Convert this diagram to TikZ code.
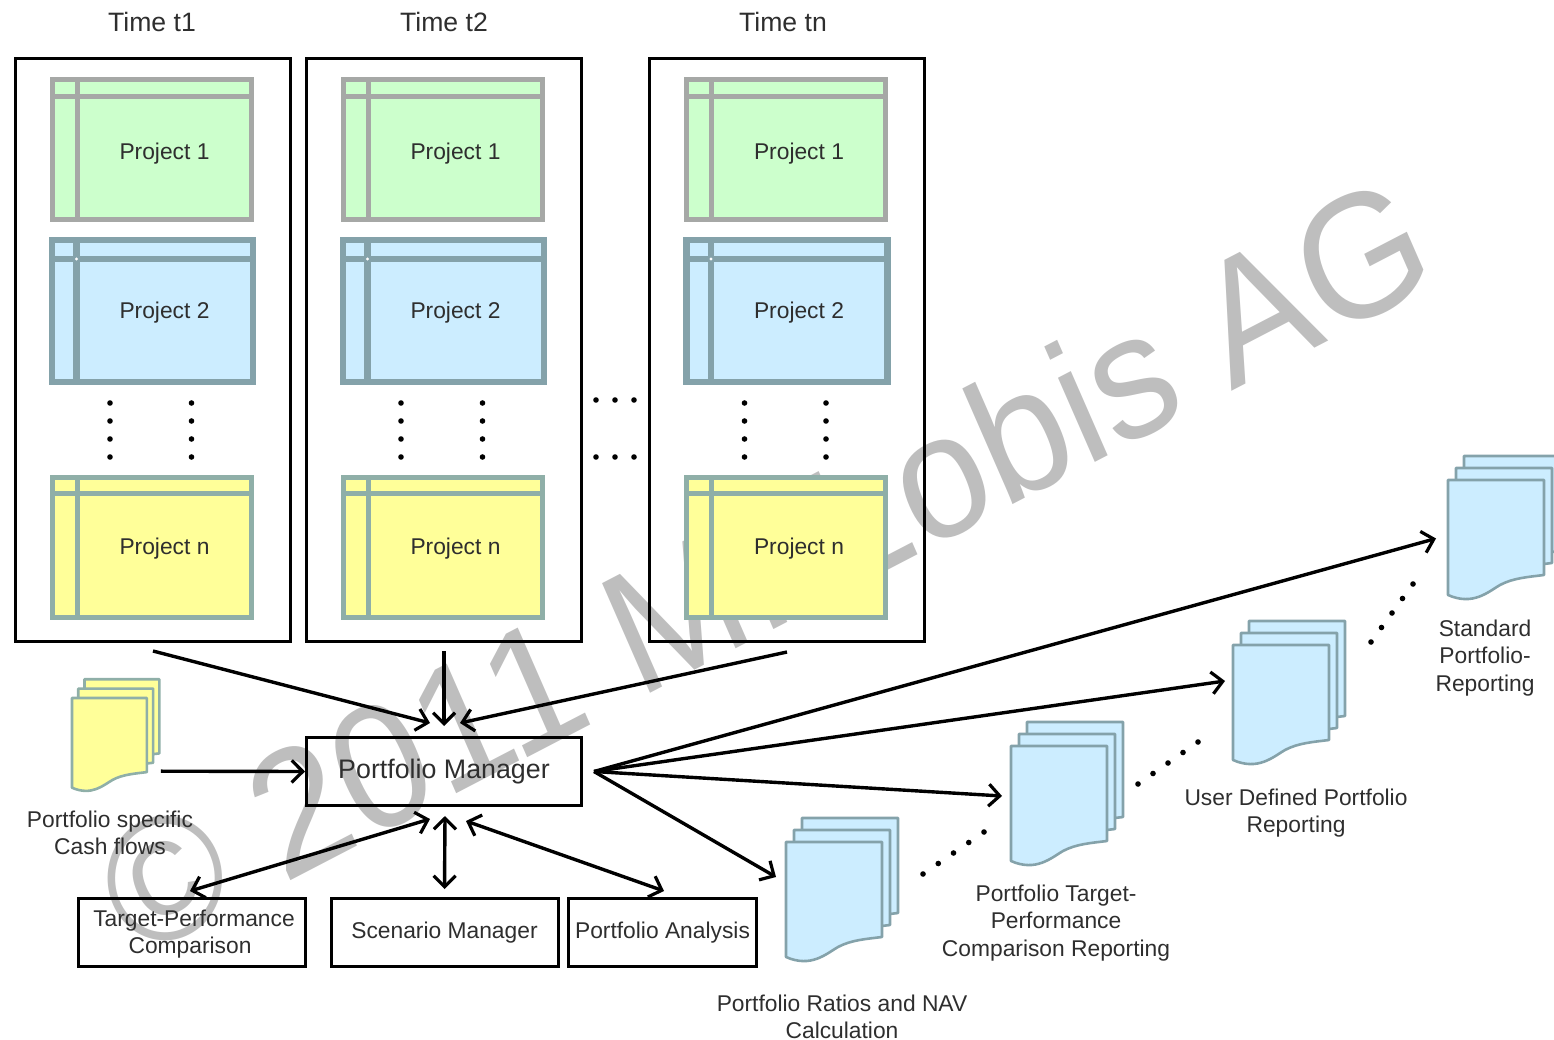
\documentclass[tikz,border=0pt]{standalone}
\usepackage{fontspec}
\setmainfont{Liberation Sans}
\usetikzlibrary{arrows.meta}
\definecolor{wm}{HTML}{BEBEBE}
\definecolor{txt}{HTML}{2E2E2E}
\definecolor{gfill}{HTML}{CCFFCC}
\definecolor{bfill}{HTML}{CCEDFF}
\definecolor{yfill}{HTML}{FFFF99}
\definecolor{gline}{HTML}{A6A8A6}
\definecolor{bline}{HTML}{84A2AA}
\definecolor{yline}{HTML}{8FAFA8}
\tikzset{
  frame/.style={draw=black,line width=3pt,minimum width=275pt,minimum height=583pt,inner sep=0pt},
  mbox/.style={draw=black,line width=3pt,inner sep=0pt,text=txt,align=center,font=\fontsize{22.8}{27.5}\selectfont},
  lab/.style={text=txt,align=center,inner sep=0pt,font=\fontsize{22.8}{27.5}\selectfont},
  timelab/.style={text=txt,inner sep=0pt,font=\fontsize{26.6}{30}\selectfont},
  conn/.style={draw=black,line width=3.4pt,-{Straight Barb[length=11pt,width=22pt,line width=3.2pt]}},
  conn2/.style={draw=black,line width=3.4pt,{Straight Barb[length=11pt,width=22pt,line width=3.2pt]}-{Straight Barb[length=11pt,width=22pt,line width=3.2pt]}},
  page/.style={line width=2.6pt,line join=round},
  ghost/.style={inner sep=0pt,outer sep=0pt}
}
\newlength{\pbw}
% name, x1, y1, x2, y2, vertical x, horizontal y, fill, line
\newcommand{\projbox}[9]{%
  \node[ghost,minimum width=#4pt-#2pt,minimum height=#5pt-#3pt] (#1) at ({(#2+#4)/2},{(#3+#5)/2}) {};
  \filldraw[fill=#8,draw=#9,line width=\pbw] (#2,#3) rectangle (#4,#5);
  \draw[#9,line width=\pbw] (#6,#3) -- (#6,#5) (#2,#7) -- (#4,#7);
}
\newcommand{\docpath}{(0,0) -- (96,0) -- (96,95) .. controls (80,97) and (65,98) .. (52,105) .. controls (40,112) and (25,126) .. (0,115) -- cycle}
% name, x, y, scale, fill, line
\newcommand{\docstack}[6]{%
  \begin{scope}[shift={(#2,#3)},scale=#4]
    \filldraw[page,fill=#5,draw=#6,shift={(16,-24)}] \docpath;
    \filldraw[page,fill=#5,draw=#6,shift={(8,-12)}] \docpath;
    \filldraw[page,fill=#5,draw=#6] \docpath;
  \end{scope}
  \node[ghost,minimum width=#4*96pt,minimum height=#4*121pt] (#1) at ({#2+#4*48},{#3+#4*60.5}) {};
}
\newcommand{\dotsline}[5]{%
  \foreach \i in {0,...,#5}{\fill[black] ({(#1)+((#3)-(#1))*\i/#5},{(#2)+((#4)-(#2))*\i/#5}) circle (2.8);}
}
\begin{document}
\begin{tikzpicture}[x=1pt,y=-1pt]
\useasboundingbox (0,0) rectangle (1554,1040);
\clip (0,0) rectangle (1554,1040);

% watermark, slightly stretched upright as in the reference
\begin{scope}[yscale=1.09]
\node[ghost,text=wm,rotate=25.5,transform shape,font=\fontsize{162}{170}\selectfont] (wmark) at (764,518) {© 2011 M. Lobis AG};
\end{scope}

% time labels
\node[timelab] (t1) at (152,22) {Time t1};
\node[timelab] (t2) at (444,22) {Time t2};
\node[timelab] (t3) at (783,22) {Time tn};

% frames
\node[frame] (f1) at (153,350) {};
\node[frame] (f2) at (444,350) {};
\node[frame] (f3) at (787,350) {};

% project boxes
\foreach \o/\k in {0/a,291/b,634.5/c}{
  \setlength{\pbw}{5pt}
  \projbox{p1\k}{52+\o}{80}{251+\o}{220}{77+\o}{97}{gfill}{gline}
  \setlength{\pbw}{6.5pt}
  \projbox{p2\k}{52+\o}{240}{253+\o}{382}{76.5+\o}{259}{bfill}{bline}
  \fill[white] (76.5+\o,259) circle (1.6);
  \setlength{\pbw}{5pt}
  \projbox{p3\k}{52+\o}{477}{251+\o}{617}{77+\o}{493}{yfill}{yline}
  \node[lab] (l1\k) at (164.5+\o,154) {Project 1};
  \node[lab] (l2\k) at (164.5+\o,313) {Project 2};
  \node[lab] (l3\k) at (164.5+\o,549) {Project n};
  \foreach \dx in {110,191.5}{\dotsline{\dx+\o}{403}{\dx+\o}{457}{3}}
}

% horizontal dots between frames
\dotsline{596}{400}{634}{400}{2}
\dotsline{596}{457}{634}{457}{2}

% manager boxes
\node[mbox,minimum width=275pt,minimum height=68pt,font=\fontsize{26.8}{30}\selectfont] (pm) at (444,771.5) {Portfolio Manager};
\node[mbox,minimum width=227pt,minimum height=68pt] (tp) at (192,932.5) {};
\node[lab] (tpa) at (194,921) {Target-Performance};
\node[lab] (tpb) at (190,948) {Comparison};
\node[mbox,minimum width=227pt,minimum height=68pt] (sm) at (444.5,932.5) {Scenario Manager};
\node[mbox,minimum width=188pt,minimum height=68pt] (pa) at (662.5,932.5) {Portfolio Analysis};

% document stacks
\docstack{dy}{72}{698}{0.78}{yfill}{yline}
\docstack{dr}{786}{842}{1}{bfill}{bline}
\docstack{dt}{1011}{746}{1}{bfill}{bline}
\docstack{du}{1233}{645}{1}{bfill}{bline}
\docstack{ds}{1448}{480}{1}{bfill}{bline}

% document labels
\node[lab] (ly) at (110,833) {Portfolio specific\\Cash flows};
\node[lab] (lr) at (842,1017) {Portfolio Ratios and NAV\\Calculation};
\node[lab] (lt) at (1056,923) {Portfolio Target-\\Performance\\Comparison Reporting};
\node[lab] (lu) at (1296,813) {User Defined Portfolio\\Reporting};
\node[lab] (ls) at (1485,658) {Standard\\Portfolio-\\Reporting};

% dots between stacks
\dotsline{923}{874}{984}{832}{4}
\dotsline{1138}{784}{1198}{742}{4}
\dotsline{1371}{642}{1413}{584}{4}

% connectors
\draw[conn] ([yshift=-8pt]f1.south) -- ([xshift=-14pt,yshift=13pt]pm.north);
\draw[conn] ([yshift=-8pt]f2.south) -- ([yshift=10pt]pm.north);
\draw[conn] ([yshift=-9pt]f3.south) -- ([xshift=16pt,yshift=13pt]pm.north);
\draw[conn] ([xshift=14pt,yshift=-26pt]dy.east) -- (pm.west);
\draw[conn] ([xshift=11pt]pm.east) -- ([xshift=-12pt,yshift=2pt]ds.west);
\draw[conn] ([xshift=11pt]pm.east) -- ([xshift=-8pt,yshift=24.5pt]du.west);
\draw[conn] ([xshift=11pt]pm.east) -- ([xshift=-9pt,yshift=10.5pt]dt.west);
\draw[conn] ([xshift=11pt]pm.east) -- ([xshift=-10pt,yshift=25.5pt]dr.west);
\draw[conn2] ([xshift=-14pt,yshift=-12pt]pm.south) -- ([xshift=-2pt,yshift=6pt]tp.north);
\draw[conn2] ([xshift=1pt,yshift=-9pt]pm.south) -- ([yshift=8pt]sm.north);
\draw[conn2] ([xshift=22pt,yshift=-14pt]pm.south) -- ([xshift=1.5pt,yshift=6pt]pa.north);
\end{tikzpicture}
\end{document}
